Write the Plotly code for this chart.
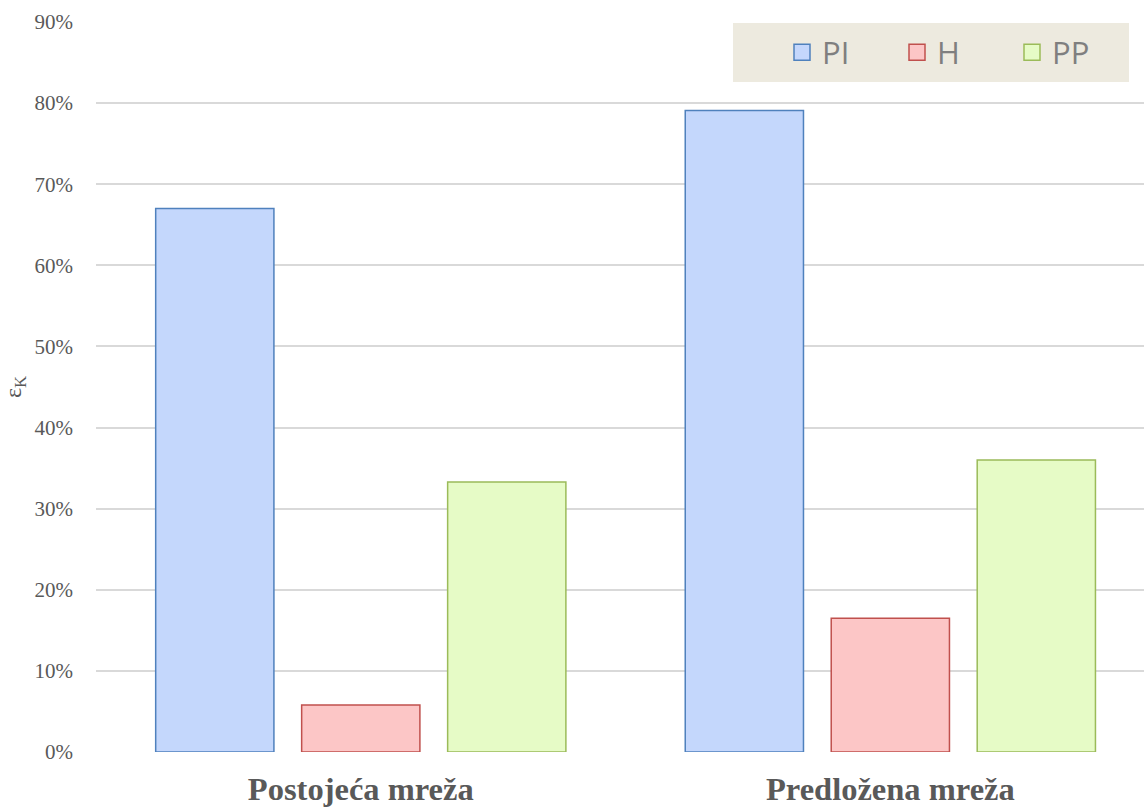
import plotly.graph_objects as go

categories = ["Postojeća mreža", "Predložena mreža"]
series_names = ["PI", "H", "PP"]
pi_values = [0.670, 0.791]
h_values = [0.058, 0.165]
pp_values = [0.333, 0.360]
y_ticks = [0, 0.1, 0.2, 0.3, 0.4, 0.5, 0.6, 0.7, 0.8, 0.9]

fills = ["#c4d7fc", "#fcc6c6", "#e6fbc6"]
lines = ["#4f81bd", "#c0504d", "#9bbb59"]

fig = go.Figure()
for name, vals, fc, lc in zip(series_names, [pi_values, h_values, pp_values], fills, lines):
    fig.add_trace(go.Bar(
        name=name, x=categories, y=vals, showlegend=False,
        marker=dict(color=fc, line=dict(color=lc, width=1.5)),
    ))
# legend-only entries (no data) with larger square swatches
for name, fc, lc in zip(series_names, fills, lines):
    fig.add_trace(go.Scatter(
        name=name, x=[None], y=[None], mode="markers",
        marker=dict(symbol="square", size=18, color=fc, line=dict(color=lc, width=1.5)),
    ))

fig.update_layout(
    width=1144, height=807,
    margin=dict(l=96, r=0, t=22, b=55),
    paper_bgcolor="white", plot_bgcolor="white",
    barmode="group", bargap=0.173, bargroupgap=0.19,
    showlegend=True,
    legend=dict(
        orientation="h", x=(782 - 96) / 1048, y=(752 - 52.5) / 730,
        xanchor="left", yanchor="middle",
        bgcolor="rgba(0,0,0,0)",
        font=dict(family="Open Sans, Liberation Sans, sans-serif", size=31, color="#7f7f7f"),
        entrywidth=70, entrywidthmode="pixels",
        itemsizing="trace",
    ),
    shapes=[dict(
        type="rect", xref="paper", yref="paper",
        x0=(733 - 96) / 1048, x1=(1129 - 96) / 1048,
        y0=(752 - 82) / 730, y1=(752 - 23) / 730,
        fillcolor="#edeadf", line=dict(width=0), layer="below",
    )],
    xaxis=dict(
        range=[-0.5, 1.479], showgrid=False, showline=False, ticks="",
        tickfont=dict(family="Liberation Serif, Times New Roman, serif", size=32.5, color="#595959", weight="bold"),
        ticklabelstandoff=14, automargin=False,
    ),
    yaxis=dict(
        range=[0, 0.9], tickvals=y_ticks, tickformat=".0%",
        showgrid=True, gridcolor="#d9d9d9", gridwidth=1.5,
        zeroline=False, showline=False, ticks="",
        tickfont=dict(family="Liberation Serif, Times New Roman, serif", size=21, color="#595959"),
        ticklabelstandoff=22, automargin=False,
        title=dict(text="ε<sub>K</sub>", standoff=12,
                   font=dict(family="Liberation Serif, Times New Roman, serif", size=24, color="#595959")),
    ),
)

fig.write_html("out.html", config={"displayModeBar": False},
               post_script="document.body.style.margin='0';document.body.style.padding='0';")
